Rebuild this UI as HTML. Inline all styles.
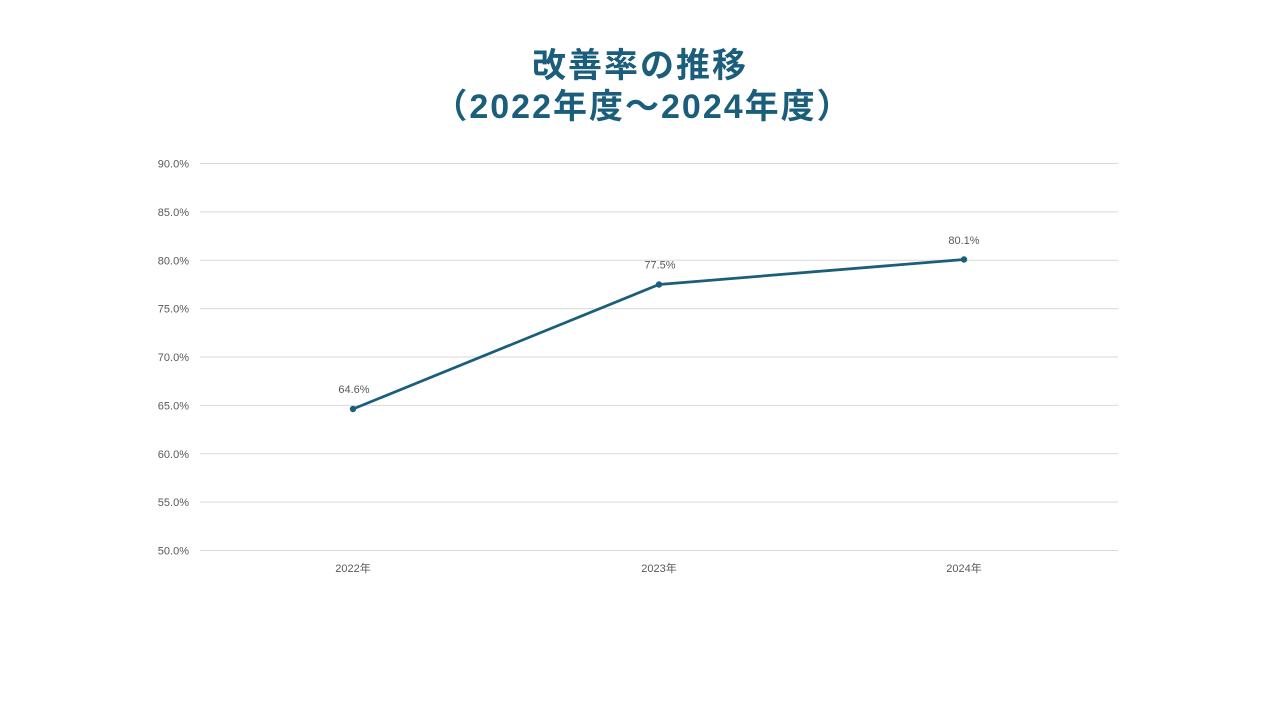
<!DOCTYPE html>
<html>
<head>
<meta charset="utf-8">
<style>
html,body{margin:0;padding:0;background:#fff;}
body{width:1280px;height:720px;position:relative;overflow:hidden;font-family:"Liberation Sans","Noto Sans CJK JP",sans-serif;}
.title{position:absolute;left:0;top:46px;width:1280px;text-align:center;color:#1b5e7b;font-weight:bold;font-size:34px;line-height:40.5px;font-family:"Liberation Sans","Noto Sans CJK JP",sans-serif;}
svg{position:absolute;left:0;top:0;}
svg text{font-family:"Liberation Sans","Noto Sans CJK JP",sans-serif;font-size:11px;fill:#595959;}
</style>
</head>
<body>
<div class="title"><span style="letter-spacing:2px">改善率の推移</span><br><span style="letter-spacing:2px;margin-right:-6px">（2022年度～2024年度）</span></div>
<svg width="1280" height="720" viewBox="0 0 1280 720">
  <g stroke="#d9d9d9" stroke-width="1">
    <line x1="200" y1="163.5" x2="1118" y2="163.5"/>
    <line x1="200" y1="211.9" x2="1118" y2="211.9"/>
    <line x1="200" y1="260.3" x2="1118" y2="260.3"/>
    <line x1="200" y1="308.6" x2="1118" y2="308.6"/>
    <line x1="200" y1="357" x2="1118" y2="357"/>
    <line x1="200" y1="405.4" x2="1118" y2="405.4"/>
    <line x1="200" y1="453.8" x2="1118" y2="453.8"/>
    <line x1="200" y1="502.1" x2="1118" y2="502.1"/>
    <line x1="200" y1="550.5" x2="1118" y2="550.5"/>
  </g>
  <g text-anchor="end">
    <text x="189" y="167.5">90.0%</text>
    <text x="189" y="215.9">85.0%</text>
    <text x="189" y="264.3">80.0%</text>
    <text x="189" y="312.6">75.0%</text>
    <text x="189" y="361">70.0%</text>
    <text x="189" y="409.4">65.0%</text>
    <text x="189" y="457.8">60.0%</text>
    <text x="189" y="506.1">55.0%</text>
    <text x="189" y="554.5">50.0%</text>
  </g>
  <g text-anchor="middle">
    <text x="353" y="572">2022年</text>
    <text x="659" y="572">2023年</text>
    <text x="964" y="572">2024年</text>
  </g>
  <polyline points="353,409 659,284.5 964,259.5" fill="none" stroke="#1b5e7b" stroke-width="2.75" stroke-linejoin="round"/>
  <g fill="#1b5e7b">
    <circle cx="353" cy="409" r="3.2"/>
    <circle cx="659" cy="284.5" r="3.2"/>
    <circle cx="964" cy="259.5" r="3.2"/>
  </g>
  <g text-anchor="middle">
    <text x="354" y="393">64.6%</text>
    <text x="660" y="268.5">77.5%</text>
    <text x="964" y="244">80.1%</text>
  </g>
</svg>
</body>
</html>
